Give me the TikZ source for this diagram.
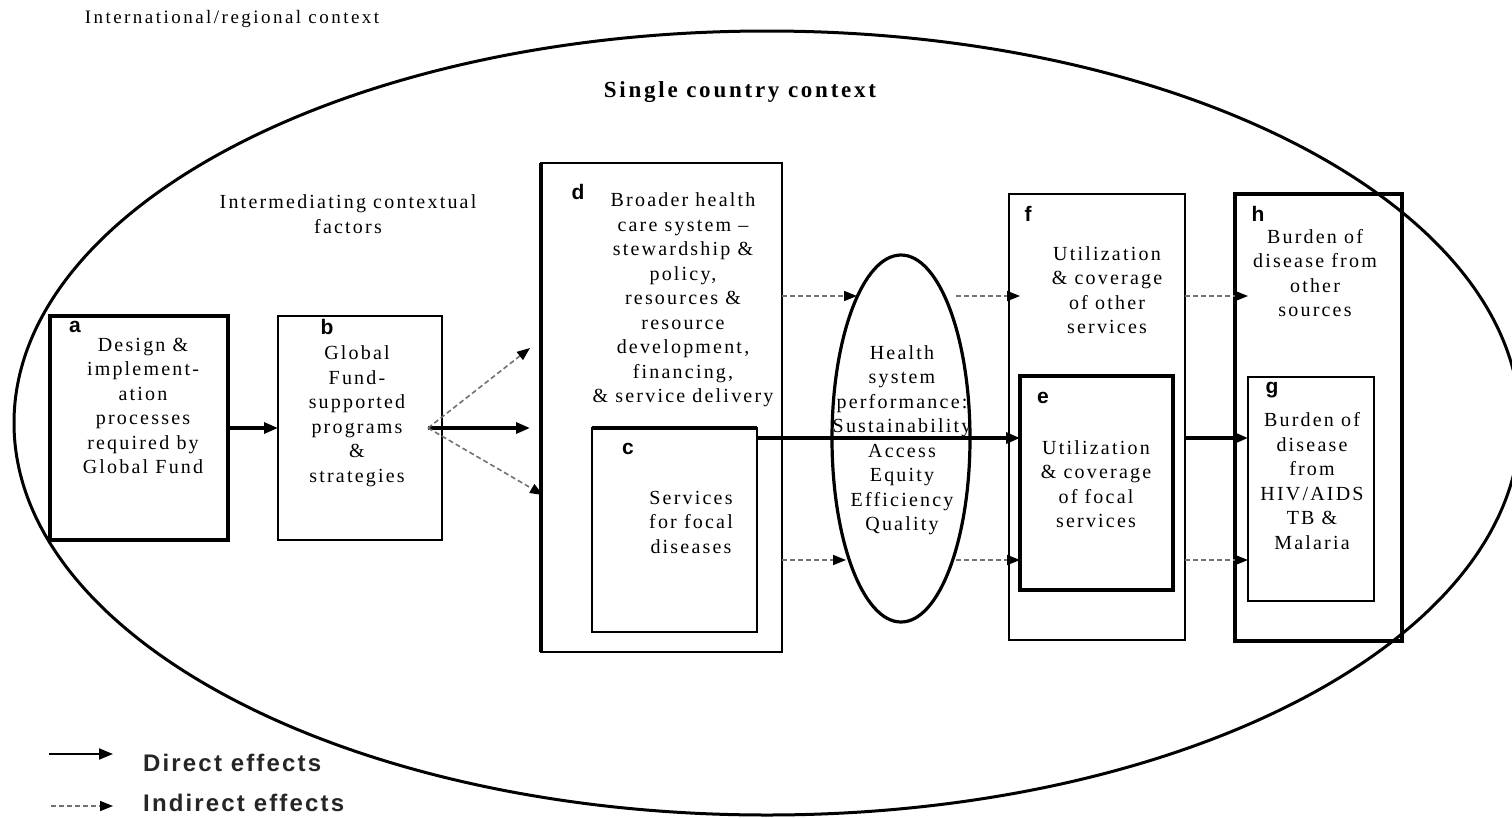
\documentclass[tikz,border=0pt]{standalone}
\usepackage{fontspec}
\setmainfont{Liberation Serif}
\newfontfamily\bodyf{Liberation Serif}[LetterSpace=11]
\newfontfamily\topf{Liberation Serif}[LetterSpace=13]
\newfontfamily\headf{Liberation Serif}[LetterSpace=12]
\newfontfamily\legf{Liberation Sans}[LetterSpace=9]
\newfontfamily\lblf{Liberation Sans}
\usetikzlibrary{arrows.meta,shapes.geometric,calc}
\begin{document}
\begin{tikzpicture}[x=1pt,y=-1pt,
  box/.style={draw=black,rectangle,inner sep=0pt,outer sep=0pt,line width=2pt},
  txt/.style={inner sep=0pt,align=center,text=black,font=\bodyf\fontsize{20}{24.5}\selectfont},
  lbl/.style={inner sep=0pt,font=\lblf\bfseries\fontsize{21}{22}\selectfont},
  direct/.style={draw=black,line width=3.2pt,-{Triangle[length=14pt,width=11pt]}},
  ind/.style={draw=black!55,line width=1.6pt,dash pattern=on 5pt off 3pt,-{Triangle[length=13pt,width=10pt,fill=black,color=black]}},
]
\useasboundingbox (0,0) rectangle (1512,817);
\fill[white] (0,0) rectangle (1512,817);

% contexts
\node[txt,font=\topf\fontsize{19}{22}\selectfont] (intl) at (232,19) {International/regional context};
\node[ellipse,draw,line width=3pt,inner sep=0pt,minimum width=1506pt,minimum height=784pt] (world) at (767,423) {};
\node[txt,font=\headf\bfseries\fontsize{23}{26}\selectfont] (single) at (740,92) {Single country context};
\node[txt] (icf) at (348,214) {Intermediating contextual\\factors};

% boxes
\node[box,line width=3.2pt,minimum width=178pt,minimum height=224pt] (a) at (139,428) {};
\node[box,minimum width=164pt,minimum height=224pt] (b) at (360,428) {};
\node[box,line width=2pt,minimum width=241pt,minimum height=489pt] (d) at (661.5,407.5) {};
\draw[line width=3.6pt] (d.south west) -- (d.north west);
\node[box,minimum width=165pt,minimum height=204pt] (c) at (674.5,530) {};
\draw[line width=3.4pt] (c.north west) -- (c.north east);
\node[ellipse,draw,line width=3.2pt,inner sep=0pt,minimum width=138pt,minimum height=367pt] (hp) at (901,438.5) {};
\node[box,line width=2pt,minimum width=176pt,minimum height=446pt] (f) at (1097,417) {};
\node[box,line width=3.2pt,minimum width=153pt,minimum height=214pt] (e) at (1096.5,483) {};
\node[box,line width=3.2pt,minimum width=167pt,minimum height=447pt] (h) at (1318.5,417.5) {};
\node[box,line width=2pt,minimum width=126pt,minimum height=224pt] (g) at (1311,489) {};

% labels
\node[lbl] (la) at (75,327) {a};
\node[lbl] (lb) at (327,327) {b};
\node[lbl] (ld) at (578,192) {d};
\node[lbl] (lc) at (628,449) {c};
\node[lbl] (lf) at (1028,214) {f};
\node[lbl] (le) at (1043,398) {e};
\node[lbl] (lh) at (1258,214) {h};
\node[lbl] (lg) at (1272,390) {g};

% texts
\node[txt] (ta) at (143,406) {Design \&\\implement-\\ation\\processes\\required by\\Global Fund};
\node[txt] (tb) at (357,416) {Global\\Fund-\\supported\\programs\\\&\\strategies};
\node[txt] (td) at (683,300) {Broader health\\care system \textendash\\stewardship \&\\policy,\\resources \&\\resource\\development,\\financing,\\\& service delivery};
\node[txt] (tc) at (691,522) {Services\\for focal\\diseases};
\node[txt] (thp) at (902,440) {Health\\system\\performance:\\Sustainability\\Access\\Equity\\Efficiency\\Quality};
\node[txt] (tf) at (1107,290) {Utilization\\\& coverage\\of other\\services};
\node[txt] (te) at (1096,484) {Utilization\\\& coverage\\of focal\\services};
\node[txt] (th) at (1315,273) {Burden of\\disease from\\other\\sources};
\node[txt] (tg) at (1312,481) {Burden of\\disease\\from\\HIV/AIDS\\TB \&\\Malaria};

% coordinates
\coordinate (bs) at (428,428);
\coordinate (d1) at (530,348);
\coordinate (d2) at (530,428);
\coordinate (d3) at (543,495);
\coordinate (r1) at (0,296);
\coordinate (r2) at (0,438);
\coordinate (r3) at (0,560);
\coordinate (h1) at (857,296);
\coordinate (h3) at (846,560);
\coordinate (o1) at (956,296);
\coordinate (o3) at (956,560);
\coordinate (tipf) at (1020,0);
\coordinate (tiph) at (1248,0);

% connectors
\draw[direct] (a.east) -- (b.west);
\draw[direct] (bs) -- (d2);
\draw[ind] (bs) -- (d1);
\draw[ind] (bs) -- (d3);
\draw[ind] (d.east |- r1) -- (h1);
\draw[ind] (d.east |- r3) -- (h3);
\draw[ind] (o1) -- (tipf |- r1);
\draw[ind] (o3) -- (tipf |- r3);
\draw[direct] (c.north east |- r2) -- (tipf |- r2);
\draw[ind] (f.east |- r1) -- (tiph |- r1);
\draw[direct] (f.east |- r2) -- (tiph |- r2);
\draw[ind] (f.east |- r3) -- (tiph |- r3);

% legend
\coordinate (ls1) at (49,754);
\coordinate (le1) at (113,754);
\coordinate (ls2) at (51,806);
\coordinate (le2) at (113,806);
\draw[direct,line width=2pt] (ls1) -- (le1);
\draw[ind] (ls2) -- (le2);
\node[anchor=west,inner sep=0pt,font=\legf\bfseries\fontsize{24}{26}\selectfont,text=black!85] (ldir) at (143,763) {Direct effects};
\node[anchor=west,inner sep=0pt,font=\legf\bfseries\fontsize{24}{26}\selectfont,text=black!85] (lind) at (143,803) {Indirect effects};
\end{tikzpicture}
\end{document}
